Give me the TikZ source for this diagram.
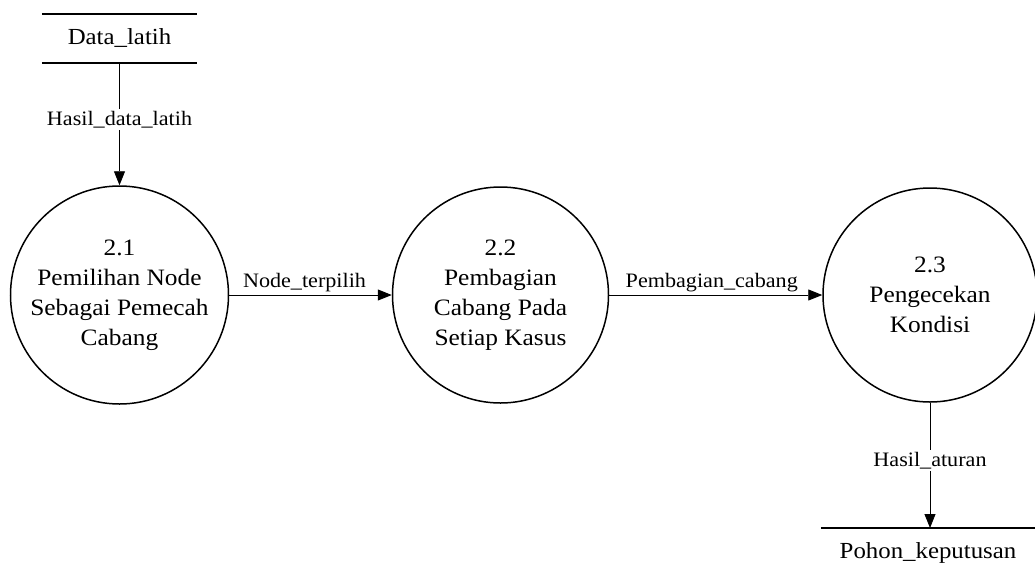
\documentclass[tikz,border=0pt]{standalone}
\usepackage{fontspec}
\setmainfont[FakeStretch=1.08]{Liberation Serif}
\usetikzlibrary{arrows.meta}
\begin{document}
\begin{tikzpicture}[x=1pt,y=1pt,
  process/.style={circle,draw,line width=1.5pt,minimum size=#1,inner sep=0pt,
    align=center,font=\fontsize{23.5}{30}\selectfont},
  store/.style={minimum width=#1,minimum height=49pt,inner sep=0pt,
    font=\fontsize{23}{26}\selectfont},
  flow/.style={line width=0.9pt,-{Triangle[length=14pt,width=11pt]}},
  flowlabel/.style={font=\fontsize{20.5}{22}\selectfont,inner sep=2pt},
  storeline/.style={line width=1.5pt}]
  \useasboundingbox (0,0) rectangle (1035,-573);

  % data stores
  \node[store=155pt] (latih) at (119.5,-38.5) {Data\_latih};
  \draw[storeline] (latih.north west) -- (latih.north east);
  \draw[storeline] (latih.south west) -- (latih.south east);

  \node[store=214pt,anchor=north] (pohon) at (928,-528) {Pohon\_keputusan};
  \draw[storeline] (pohon.north west) -- (pohon.north east);

  % processes
  \node[process=218pt] (p1) at (119.5,-295) {2.1\\Pemilihan Node\\Sebagai Pemecah\\Cabang};
  \node[process=216pt] (p2) at (500.5,-295) {2.2\\Pembagian\\Cabang Pada\\Setiap Kasus};
  \node[process=214pt] (p3) at (930,-295) {2.3\\Pengecekan\\Kondisi};

  % data flows
  \draw[flow] (latih.south) -- node[flowlabel,fill=white,pos=0.46] {Hasil\_data\_latih} (p1.north);
  \draw[flow] (p1.east) -- node[flowlabel,above=1pt,xshift=-6pt] {Node\_terpilih} (p2.west);
  \draw[flow] (p2.east) -- node[flowlabel,above=1pt,xshift=-4pt] {Pembagian\_cabang} (p3.west);
  \draw[flow] (p3.south) -- node[flowlabel,fill=white,pos=0.46] {Hasil\_aturan} (p3.south |- pohon.north);
\end{tikzpicture}
\end{document}
